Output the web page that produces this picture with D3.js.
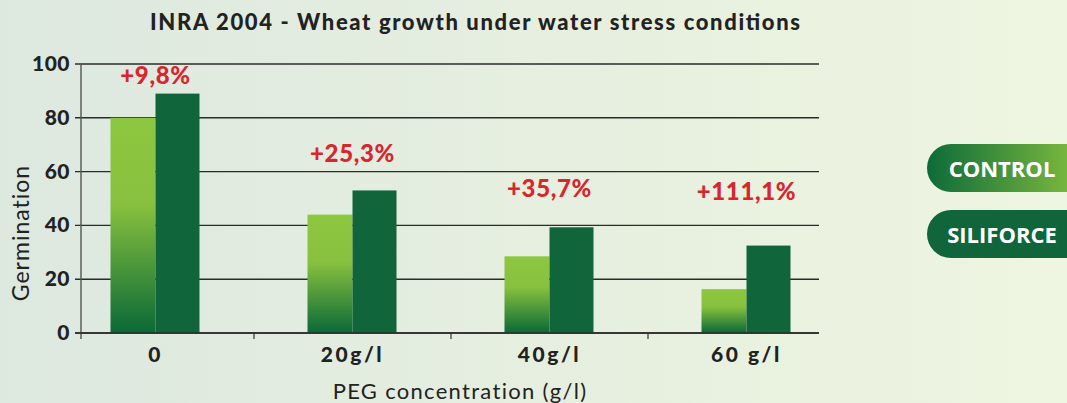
<!DOCTYPE html>
<html>
<head>
<meta charset="utf-8">
<script src="https://cdn.jsdelivr.net/npm/d3@7"></script>
<style>
  html, body { margin: 0; padding: 0; }
  body { width: 1067px; height: 403px; overflow: hidden; }
  svg { display: block; }
</style>
</head>
<body>
<svg id="chart" width="1067" height="403"></svg>
<script>
// ---- data ----
const categories = ["0", "20g/l", "40g/l", "60 g/l"];
const controlValues = [80, 44, 28.5, 16.3];
const siliforceValues = [89, 53, 39.3, 32.5];
const gainLabels = ["+9,8%", "+25,3%", "+35,7%", "+111,1%"];
const yTicks = [0, 20, 40, 60, 80, 100];
const seriesNames = ["CONTROL", "SILIFORCE"];

// ---- layout ----
const W = 1067, H = 403;
const plot = { left: 81, right: 819, top: 64, bottom: 333 };
const labelLevels = [92.5, 63.5, 50.5, 49.5]; // vertical anchor of gain labels, in axis units

const svg = d3.select("#chart");
const defs = svg.append("defs");

const bg = defs.append("linearGradient").attr("id", "bg").attr("x1", 0).attr("x2", 1).attr("y1", 0).attr("y2", 0);
bg.append("stop").attr("offset", "0%").attr("stop-color", "#dde8df");
bg.append("stop").attr("offset", "100%").attr("stop-color", "#eef5e0");

const cg = defs.append("linearGradient").attr("id", "ctrl").attr("x1", 0).attr("x2", 0).attr("y1", 0).attr("y2", 1);
cg.append("stop").attr("offset", "0%").attr("stop-color", "#8dc63f");
cg.append("stop").attr("offset", "40%").attr("stop-color", "#88c13e");
cg.append("stop").attr("offset", "100%").attr("stop-color", "#0a6937");

const lg = defs.append("linearGradient").attr("id", "legCtrl").attr("x1", 0).attr("x2", 1).attr("y1", 0).attr("y2", 0);
lg.append("stop").attr("offset", "0%").attr("stop-color", "#0d6a39");
lg.append("stop").attr("offset", "100%").attr("stop-color", "#8dc63f");

svg.append("rect").attr("width", W).attr("height", H).attr("fill", "url(#bg)");

const x = d3.scaleBand().domain(categories).range([57, 845]).paddingInner(0).paddingOuter(0);
const barW = 45;
const y = d3.scaleLinear().domain([0, 100]).range([plot.bottom, plot.top]);

// gridlines
svg.append("g").selectAll("line").data(yTicks).join("line")
  .attr("x1", plot.left - 6).attr("x2", plot.right)
  .attr("y1", d => y(d)).attr("y2", d => y(d))
  .attr("stroke", "#2b2b2b").attr("stroke-width", 1.4);

// y axis line
svg.append("line").attr("x1", plot.left).attr("x2", plot.left)
  .attr("y1", plot.top).attr("y2", plot.bottom + 6)
  .attr("stroke", "#555").attr("stroke-width", 1.4);

// y tick labels
svg.append("g").selectAll("text").data(yTicks).join("text")
  .attr("x", plot.left - 11).attr("y", d => y(d) + 7)
  .attr("text-anchor", "end")
  .attr("font-family", "Lato").attr("font-weight", 900).attr("font-size", 21)
  .attr("letter-spacing", 0.5)
  .attr("fill", "#222").text(d => d);

// x separators
svg.append("g").selectAll("line").data(categories.slice(1)).join("line")
  .attr("x1", d => x(d)).attr("x2", d => x(d))
  .attr("y1", plot.bottom).attr("y2", plot.bottom + 6)
  .attr("stroke", "#333").attr("stroke-width", 1.2);

// bars
const groups = svg.append("g").selectAll("g").data(categories).join("g");
groups.append("rect")
  .attr("x", (d) => x(d) + x.bandwidth() / 2 - barW)
  .attr("width", barW)
  .attr("y", (d, i) => y(controlValues[i]))
  .attr("height", (d, i) => y(0) - y(controlValues[i]))
  .attr("fill", "url(#ctrl)");
groups.append("rect")
  .attr("x", (d) => x(d) + x.bandwidth() / 2)
  .attr("width", barW - 1)
  .attr("y", (d, i) => y(siliforceValues[i]))
  .attr("height", (d, i) => y(0) - y(siliforceValues[i]))
  .attr("fill", "#10663a");

// x axis baseline (over bars)
svg.append("line").attr("x1", plot.left - 6).attr("x2", plot.right)
  .attr("y1", plot.bottom).attr("y2", plot.bottom)
  .attr("stroke", "#2b2b2b").attr("stroke-width", 1.4);

// gain labels
groups.append("text")
  .attr("x", d => x(d) + x.bandwidth() / 2)
  .attr("y", (d, i) => y(labelLevels[i]))
  .attr("text-anchor", "middle")
  .attr("font-family", "Lato").attr("font-weight", 900).attr("font-size", 24)
  .attr("letter-spacing", 0.6)
  .attr("fill", "#d7262e")
  .text((d, i) => gainLabels[i]);

// category labels
svg.append("g").selectAll("text").data(categories).join("text")
  .attr("x", d => x(d) + x.bandwidth() / 2)
  .attr("y", 362)
  .attr("text-anchor", "middle")
  .attr("font-family", "Lato").attr("font-weight", 900).attr("font-size", 21)
  .attr("letter-spacing", 2.5)
  .attr("fill", "#222").text(d => d);

// axis titles
svg.append("text").attr("x", 460).attr("y", 399).attr("text-anchor", "middle")
  .attr("font-family", "Lato").attr("font-size", 22).attr("letter-spacing", 1.3).attr("fill", "#222")
  .text("PEG concentration (g/l)");
svg.append("text").attr("transform", "translate(29,233) rotate(-90)")
  .attr("text-anchor", "middle")
  .attr("font-family", "Lato").attr("font-size", 23).attr("letter-spacing", 1).attr("fill", "#222")
  .text("Germination");

// title
svg.append("text").attr("x", 475).attr("y", 30).attr("text-anchor", "middle")
  .attr("font-family", "Lato").attr("font-weight", 900).attr("font-size", 22)
  .attr("textLength", 650).attr("lengthAdjust", "spacing")
  .attr("fill", "#222")
  .text("INRA 2004 - Wheat growth under water stress conditions");

// legend
const legend = svg.append("g").selectAll("g").data(seriesNames).join("g")
  .attr("transform", (d, i) => `translate(927,${144 + i * 66})`);
legend.append("rect").attr("width", 170).attr("height", 48).attr("rx", 24).attr("ry", 24)
  .attr("fill", (d, i) => i === 0 ? "url(#legCtrl)" : "#10663a");
legend.append("text").attr("x", 75).attr("y", 33).attr("text-anchor", "middle")
  .attr("font-family", "Open Sans").attr("font-weight", 700).attr("font-size", 22)
  .attr("fill", "#fff").text(d => d);
</script>
</body>
</html>
